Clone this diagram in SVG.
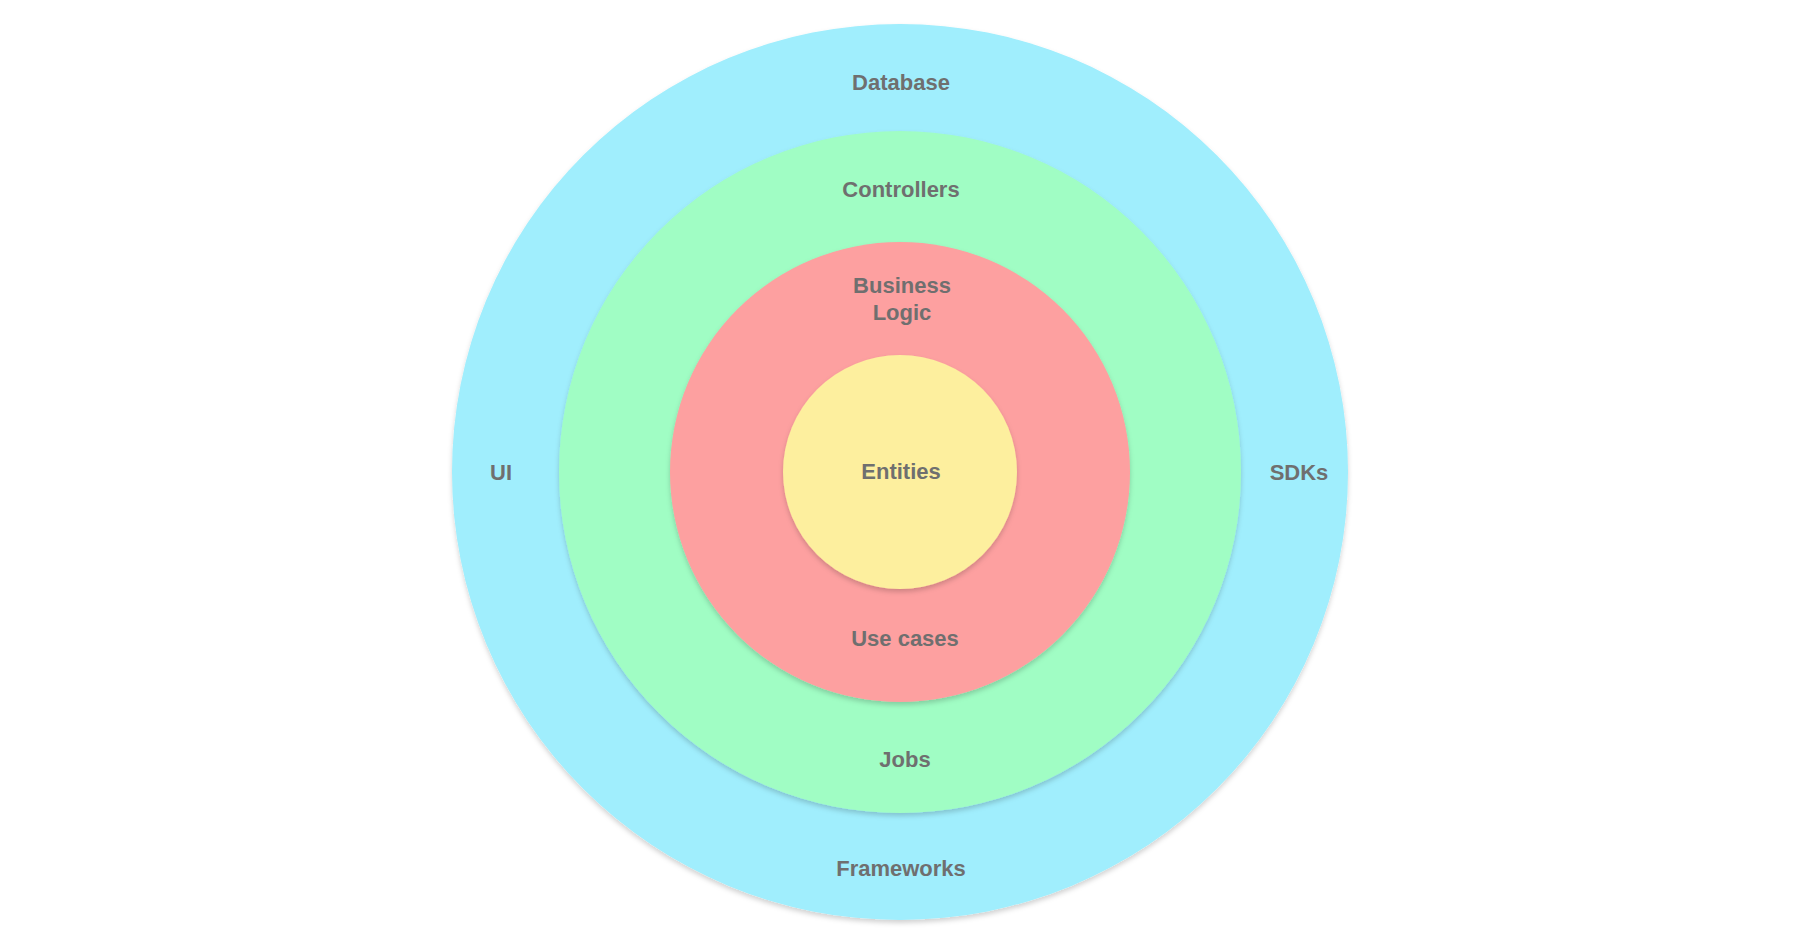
<svg xmlns="http://www.w3.org/2000/svg" width="1800" height="945" viewBox="0 0 1800 945">
<defs>
<filter id="sh" x="-10%" y="-10%" width="120%" height="120%">
<feDropShadow dx="0" dy="3" stdDeviation="2.5" flood-color="#000" flood-opacity="0.18"/>
</filter>
<style>
text{font-family:"Liberation Sans",Arial,Helvetica,sans-serif;font-weight:bold;font-size:22px;fill:#6f6f6f;text-anchor:middle}
.ring{filter:url(#sh)}
</style>
</defs>
<rect width="1800" height="945" fill="#ffffff"/>
<g id="frameworks">
<circle class="ring" cx="900" cy="472" r="448" fill="#a0eefd"/>
<text x="901" y="90">Database</text>
<text x="501" y="480">UI</text>
<text x="1299" y="480">SDKs</text>
<text x="901" y="876">Frameworks</text>
</g>
<g id="controllers">
<circle class="ring" cx="900" cy="472" r="341" fill="#a0fdc4"/>
<text x="901" y="197">Controllers</text>
<text x="905" y="767">Jobs</text>
</g>
<g id="usecases">
<circle class="ring" cx="900" cy="472" r="230" fill="#fda0a0"/>
<text x="902" y="293">Business</text>
<text x="902" y="320">Logic</text>
<text x="905" y="646">Use cases</text>
</g>
<g id="entities">
<circle class="ring" cx="900" cy="472" r="117" fill="#fdef9e"/>
<text x="901" y="479">Entities</text>
</g>
<g id="connectors"></g>
</svg>
